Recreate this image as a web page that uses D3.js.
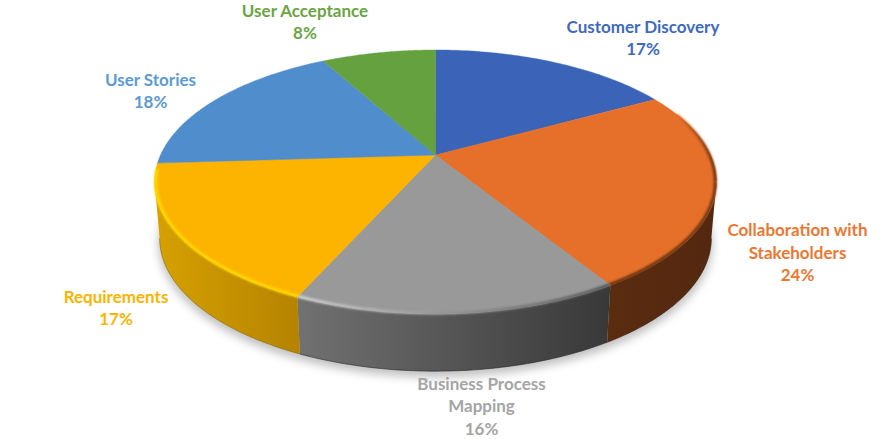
<html>
  <head>
    <style>
      body { margin: 0; background: #fff; }
    </style>
  </head>
  <body>
    <div id="chart"></div>
    <script src="https://d3js.org/d3.v7.js"></script>
    <script>
      // data, clockwise from 12 o'clock
      const categories = ["Customer Discovery", "Collaboration with Stakeholders", "Business Process Mapping", "Requirements", "User Stories", "User Acceptance"];
      const shares = [17, 24.2, 15.5, 17.3, 18, 8];

      const faceColors = ["#3b64b8", "#e6702a", "#999999", "#fdb400", "#508dcc", "#65a13e"];
      const labelColors = ["#4069bd", "#ed7730", "#a5a5a5", "#fdb400", "#5b9bd5", "#6aa544"];

      const width = 883, height = 439;
      const tilt = 0.2045; // how much nearer the front of the disc is than the back

      const svg = d3.select("#chart").append("svg")
        .attr("width", width)
        .attr("height", height)
        .style("display", "block");
      const defs = svg.append("defs");

      // top of the disc and its (slightly smaller) bottom rim
      const xTop = d3.scaleLinear().domain([-1, 1]).range([160.5, 710.5]);
      const yTop = d3.scaleLinear().domain([-1, 1]).range([281.5, 28.5]);
      const xBottom = d3.scaleLinear().domain([-1, 1]).range([165.5, 705.5]);
      const yBottom = d3.scaleLinear().domain([-1, 1]).range([338.4, 83.6]);

      function project(angle, r, xs, ys) {
        const w = 1 + tilt * Math.cos(angle) * r;
        return [xs(r * Math.sin(angle) / w), ys(r * Math.cos(angle) / w)];
      }
      const onTop = a => project(a, 1, xTop, yTop);
      const onBottom = a => project(a, 1, xBottom, yBottom);

      function arcAngles(a0, a1) {
        return d3.range(0, 61).map(i => a0 + (a1 - a0) * i / 60);
      }
      const line = d3.line();
      const toRad = d => d * Math.PI / 180;

      const pie = d3.pie().sort(null);
      const slices = pie(shares);

      // the wall only shows between the two silhouette points of the rim
      const wallFrom = Math.acos(-tilt);
      const wallTo = 2 * Math.PI - wallFrom;

      // soft shadow on the page
      defs.append("filter").attr("id", "shadow")
        .attr("x", "-10%").attr("y", "-10%").attr("width", "120%").attr("height", "120%")
        .append("feGaussianBlur").attr("stdDeviation", 5);
      defs.append("filter").attr("id", "soft")
        .attr("filterUnits", "userSpaceOnUse")
        .attr("x", 0).attr("y", 0).attr("width", width).attr("height", height)
        .append("feGaussianBlur").attr("stdDeviation", 1.2);

      svg.append("path")
        .attr("d", line(arcAngles(0, 2 * Math.PI).map(a => project(a, 1.005, xBottom, yBottom))) + "Z")
        .attr("transform", "translate(0,5)")
        .attr("fill", "#000")
        .attr("opacity", 0.25)
        .attr("filter", "url(#shadow)");

      function gradient(id, x0, x1, colors) {
        const g = defs.append("linearGradient").attr("id", id)
          .attr("gradientUnits", "userSpaceOnUse")
          .attr("x1", x0).attr("x2", x1).attr("y1", 0).attr("y2", 0);
        g.append("stop").attr("offset", 0).attr("stop-color", colors[0]);
        g.append("stop").attr("offset", 1).attr("stop-color", colors[1]);
      }

      // side wall, one shaded piece per visible slice
      const wallShades = {
        1: ["#5a2c10", "#532810"],
        2: ["#717171", "#383838"],
        3: ["#d6a100", "#b58300"]
      };
      const wallEdges = { 1: "#3a1b08", 2: "#262626", 3: "#8a6400" };

      slices.forEach((s, i) => {
        const a0 = Math.max(s.startAngle, wallFrom);
        const a1 = Math.min(s.endAngle, wallTo);
        if (a1 <= a0) return;
        const angles = arcAngles(a0, a1);
        const top = angles.map(onTop);
        const bottom = angles.map(onBottom).reverse();
        const xs = d3.extent(top.concat(bottom), p => p[0]);
        gradient("wall" + i, xs[0], xs[1], wallShades[i]);
        svg.append("path")
          .attr("d", line(top.concat(bottom)) + "Z")
          .attr("fill", "url(#wall" + i + ")");
        svg.append("path")
          .attr("d", line(bottom))
          .attr("fill", "none")
          .attr("stroke", wallEdges[i])
          .attr("stroke-width", 1)
          .attr("opacity", 0.6);
      });

      // top face
      const face = svg.append("g");
      slices.forEach((s, i) => {
        const pts = [project(0, 0, xTop, yTop)].concat(arcAngles(s.startAngle, s.endAngle).map(onTop));
        face.append("path")
          .attr("d", line(pts) + "Z")
          .attr("fill", faceColors[i])
          .attr("stroke", faceColors[i])
          .attr("stroke-width", 0.4);
      });

      // bevel along the front of the rim
      const bevels = [
        { from: toRad(70), to: wallFrom, colors: ["#e6702a", "#6a3412"] },
        { from: wallFrom, to: slices[1].endAngle, colors: ["#5e2e11", "#6a3412"] },
        { from: slices[2].startAngle, to: slices[2].endAngle, colors: ["#d0d0d0", "#555555"] },
        { from: slices[3].startAngle, to: toRad(264), colors: ["#ffdc00", "#ffd800"] }
      ];
      bevels.forEach((b, i) => {
        const pts = arcAngles(b.from, b.to).map(a => project(a, 0.996, xTop, yTop));
        const xs = d3.extent(pts, p => p[0]);
        gradient("rim" + i, xs[0], xs[1], b.colors);
        svg.append("path")
          .attr("d", line(pts))
          .attr("fill", "none")
          .attr("stroke", "url(#rim" + i + ")")
          .attr("stroke-width", 3)
          .attr("filter", "url(#soft)");
      });

      // labels, centred on these spots
      const labelSpots = [[643, 27], [797.5, 230.5], [481.5, 384], [116, 297], [150.5, 80], [305, 11]];
      const labelLines = [
        ["Customer Discovery"],
        ["Collaboration with", "Stakeholders"],
        ["Business Process", "Mapping"],
        ["Requirements"],
        ["User Stories"],
        ["User Acceptance"]
      ];
      categories.forEach((c, i) => {
        const lines = labelLines[i].concat([Math.round(shares[i]) + "%"]);
        const text = svg.append("text")
          .attr("text-anchor", "middle")
          .attr("font-family", "Lato, 'Open Sans', sans-serif")
          .attr("font-weight", 700)
          .attr("font-size", 17)
          .attr("fill", labelColors[i]);
        lines.forEach((l, j) => {
          text.append("tspan")
            .attr("x", labelSpots[i][0])
            .attr("y", labelSpots[i][1] + 5.5 + j * 22.5)
            .text(l);
        });
      });
    </script>
  </body>
</html>
